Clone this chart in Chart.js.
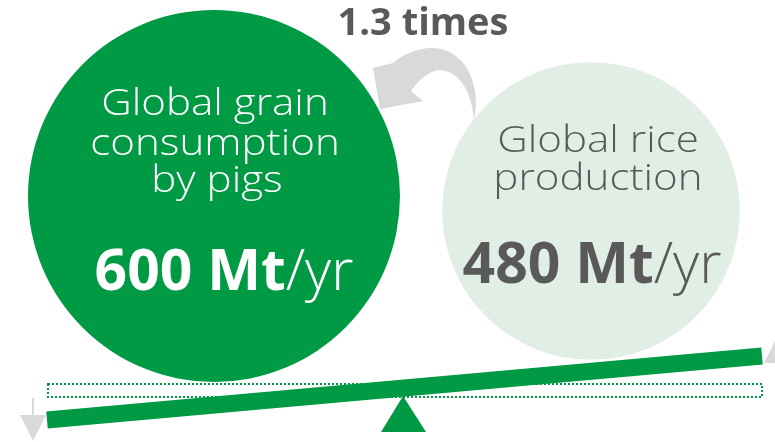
<!DOCTYPE html>
<html>
<head>
<meta charset="utf-8">
<script src="https://cdn.jsdelivr.net/npm/chart.js@4.4.1/dist/chart.umd.min.js"></script>
<style>
  html, body { margin: 0; padding: 0; background: #ffffff; }
  #wrap { width: 775px; height: 442px; position: relative; }
</style>
</head>
<body>
<div id="wrap"><canvas id="seesaw"></canvas></div>
<script>
// Quantities compared on the see-saw (million tonnes per year)
const categories = ['Global grain consumption by pigs', 'Global rice production'];
const valuesMt = [600, 480];
const labelLines = [
  ['Global grain', 'consumption', 'by pigs'],
  ['Global rice', 'production']
];
const unitText = 'Mt';
const perText = '/yr';
const ratioText = '1.3 times';

// Layout / styling (pixel space: x 0..775, y 0..442 top-down)
const FONT = '"Open Sans", "Liberation Sans", sans-serif';
const GREEN = '#009a44';
const PALE = '#e0eee5';
const GREY_TEXT = '#595959';
const GREY_ARROW = '#d9d9d9';
const RADIUS_PER_MT = 0.31;
const LABEL_SIZE = 36;
const LABEL_STRETCH = 1.17;   // wide geometric look for the light captions
const VALUE_SIZE = 57;
const centres = [{ x: 214, y: 196 }, { x: 591, y: 211 }];
const bubbleColours = [GREEN, PALE];
const textStyle = [
  { color: '#ffffff', dx: 1, lineDy: [-81, -41, -4], lineDx: [0, 0, 2], valueDy: 94, valueDx: 10 },
  { color: GREY_TEXT, dx: 7, lineDy: [-59, -21], lineDx: [0, 0], valueDy: 72, valueDx: 1 }
];
const beam = { x0: 47, y0: 420, x1: 762, y1: 356, width: 17 };

const bubbleData = valuesMt.map((v, i) => ({
  x: centres[i].x, y: centres[i].y, r: v * RADIUS_PER_MT
}));

const decorPlugin = {
  id: 'decor',
  beforeDatasetsDraw(chart) {
    const ctx = chart.ctx;
    const X = v => chart.scales.x.getPixelForValue(v);
    const Y = v => chart.scales.y.getPixelForValue(v);
    ctx.save();

    // dotted frame under the beam
    ctx.strokeStyle = GREEN;
    ctx.lineWidth = 2;
    ctx.setLineDash([2, 2]);
    ctx.strokeRect(X(48), Y(384), X(762) - X(48), Y(397) - Y(384));
    ctx.setLineDash([]);

    // fulcrum
    ctx.fillStyle = GREEN;
    ctx.beginPath();
    ctx.moveTo(X(403), Y(396));
    ctx.lineTo(X(426), Y(432));
    ctx.lineTo(X(381), Y(432));
    ctx.closePath();
    ctx.fill();

    // down arrow (left) and up arrow (right)
    ctx.fillStyle = GREY_ARROW;
    ctx.fillRect(X(32), Y(398), 2, Y(416) - Y(398));
    ctx.beginPath();
    ctx.moveTo(X(20), Y(415));
    ctx.lineTo(X(46), Y(415));
    ctx.lineTo(X(33), Y(441));
    ctx.closePath();
    ctx.fill();
    ctx.beginPath();
    ctx.moveTo(X(764), Y(363));
    ctx.lineTo(X(790), Y(363));
    ctx.lineTo(X(777), Y(337));
    ctx.closePath();
    ctx.fill();

    // curved arrow from the rice circle to the pig circle
    ctx.beginPath();
    ctx.moveTo(X(474), Y(121));
    ctx.bezierCurveTo(X(483), Y(80), X(461), Y(46), X(430), Y(48));
    ctx.bezierCurveTo(X(415), Y(49), X(402), Y(55), X(393), Y(63));
    ctx.lineTo(X(373), Y(68));
    ctx.lineTo(X(380), Y(109));
    ctx.lineTo(X(423), Y(101));
    ctx.lineTo(X(411), Y(91));
    ctx.bezierCurveTo(X(420), Y(78), X(431), Y(70), X(440), Y(70));
    ctx.bezierCurveTo(X(458), Y(71), X(472), Y(90), X(474), Y(121));
    ctx.closePath();
    ctx.fill();

    ctx.restore();
  },
  afterDatasetsDraw(chart) {
    const ctx = chart.ctx;
    const meta = chart.getDatasetMeta(0);
    ctx.save();
    ctx.textBaseline = 'alphabetic';

    meta.data.forEach((pt, i) => {
      const st = textStyle[i];
      ctx.fillStyle = st.color;
      ctx.textAlign = 'center';
      ctx.font = `300 ${LABEL_SIZE}px ${FONT}`;
      labelLines[i].forEach((line, j) => {
        ctx.save();
        ctx.translate(pt.x + st.dx + st.lineDx[j], pt.y + st.lineDy[j]);
        ctx.scale(LABEL_STRETCH, 1);
        ctx.fillText(line, 0, 0);
        ctx.restore();
      });
      // value: bold number + unit, light "/yr"
      const boldPart = `${valuesMt[i]} ${unitText}`;
      ctx.font = `700 ${VALUE_SIZE}px ${FONT}`;
      const wBold = ctx.measureText(boldPart).width;
      ctx.font = `300 ${VALUE_SIZE}px ${FONT}`;
      const wLight = ctx.measureText(perText).width;
      const left = pt.x + st.valueDx - (wBold + wLight) / 2;
      ctx.textAlign = 'left';
      ctx.font = `700 ${VALUE_SIZE}px ${FONT}`;
      ctx.fillText(boldPart, left, pt.y + st.valueDy);
      ctx.font = `300 ${VALUE_SIZE}px ${FONT}`;
      ctx.fillText(perText, left + wBold, pt.y + st.valueDy);
    });

    // ratio caption
    ctx.fillStyle = GREY_TEXT;
    ctx.textAlign = 'center';
    ctx.font = `700 38px ${FONT}`;
    ctx.fillText(ratioText, chart.scales.x.getPixelForValue(423), chart.scales.y.getPixelForValue(35));
    ctx.restore();
  }
};

new Chart(document.getElementById('seesaw'), {
  type: 'bubble',
  data: {
    labels: categories,
    datasets: [
      {
        label: 'Grain / rice',
        data: bubbleData,
        backgroundColor: bubbleColours,
        borderWidth: 0,
        hoverRadius: 0,
        clip: false,
        order: 2
      },
      {
        type: 'line',
        label: 'Beam',
        data: [{ x: beam.x0, y: beam.y0 }, { x: beam.x1, y: beam.y1 }],
        borderColor: GREEN,
        borderWidth: beam.width,
        borderCapStyle: 'butt',
        pointRadius: 0,
        fill: false,
        tension: 0,
        clip: false,
        order: 1
      }
    ]
  },
  options: {
    responsive: true,
    maintainAspectRatio: false,
    animation: false,
    events: [],
    layout: { padding: 0, autoPadding: false },
    plugins: { legend: { display: false }, tooltip: { enabled: false } },
    scales: {
      x: { type: 'linear', min: 0, max: 775, display: false },
      y: { type: 'linear', min: 0, max: 442, reverse: true, display: false }
    }
  },
  plugins: [decorPlugin]
});
</script>
</body>
</html>
